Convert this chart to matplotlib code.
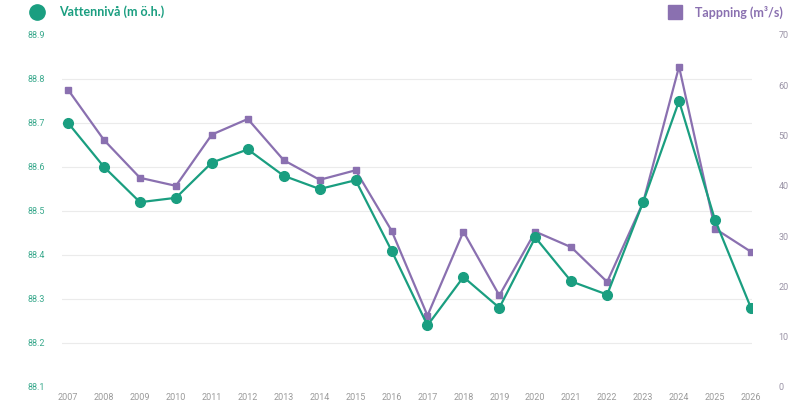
import matplotlib
matplotlib.use("Agg")
import matplotlib.pyplot as plt
from matplotlib.lines import Line2D
import numpy as np

years = list(range(2007, 2027))
vattenniva = [88.70, 88.60, 88.52, 88.53, 88.61, 88.64, 88.58, 88.55, 88.57, 88.41,
              88.24, 88.35, 88.28, 88.44, 88.34, 88.31, 88.52, 88.75, 88.48, 88.28]
tappning = [59.1, 49.1, 41.6, 40.0, 50.2, 53.3, 45.1, 41.2, 43.1, 31.1,
            14.2, 30.9, 18.2, 30.9, 27.8, 20.9, 36.7, 63.7, 31.5, 26.9]
left_ticks = [88.1, 88.2, 88.3, 88.4, 88.5, 88.6, 88.7, 88.8, 88.9]
right_ticks = [0, 10, 20, 30, 40, 50, 60, 70]

GREEN = "#1a9e80"
PURPLE = "#8a70b0"
GRID = "#ebebeb"

plt.rcParams["font.family"] = ["Roboto", "DejaVu Sans"]

fig = plt.figure(figsize=(8, 4.16), dpi=100)
ax = fig.add_axes([62 / 800, 29 / 416, 690 / 800, 352 / 416])
ax2 = ax.twinx()

# purple series on the right axis, drawn under the green one
ax2.plot(years, tappning, color=PURPLE, lw=1.6, marker="s", ms=5, zorder=3)
ax2.set_ylim(0, 70)
ax2.set_yticks(right_ticks)
ax2.set_yticklabels([str(t) for t in right_ticks])
# grid follows the left axis levels
lo, hi = 88.1, 88.9
ax2.set_yticks([(v - lo) / (hi - lo) * 70 for v in left_ticks], minor=True)
ax2.grid(True, which="minor", axis="y", color=GRID, lw=0.8, zorder=0)
ax2.tick_params(axis="y", which="both", length=0, pad=19, labelsize=6.5, labelcolor="#9a93a6")

ax.plot(years, vattenniva, color=GREEN, lw=1.6, marker="o", ms=7, zorder=3)
ax.set_ylim(lo, hi)
ax.set_yticks(left_ticks)
ax.set_yticklabels([f"{t:.1f}" for t in left_ticks])
ax.set_xlim(2006.83, 2026.03)
ax.set_xticks(years)
ax.tick_params(axis="y", length=0, pad=12, labelsize=6.5, labelcolor="#3aa98d")
ax.tick_params(axis="x", length=0, pad=4, labelsize=6.5, labelcolor="#9a9a9a")
ax.set_zorder(ax2.get_zorder() + 1)
ax.patch.set_visible(False)

for a in (ax, ax2):
    for s in a.spines.values():
        s.set_visible(False)

# legend
fig.add_artist(Line2D([37 / 800], [1 - 12 / 416], marker="o", ms=11, color=GREEN,
                      transform=fig.transFigure))
fig.text(59 / 800, 1 - 12 / 416, "Vattennivå (m ö.h.)", color=GREEN, fontsize=9,
         fontweight="bold", family=["Lato", "DejaVu Sans"], va="center", ha="left")
fig.add_artist(Line2D([675 / 800], [1 - 12 / 416], marker="s", ms=10, color=PURPLE,
                      transform=fig.transFigure))
fig.text(695 / 800, 1 - 12 / 416, "Tappning (m³/s)", color=PURPLE, fontsize=9,
         fontweight="bold", family=["Lato", "DejaVu Sans"], va="center", ha="left")

fig.savefig("out.png", dpi=100)
